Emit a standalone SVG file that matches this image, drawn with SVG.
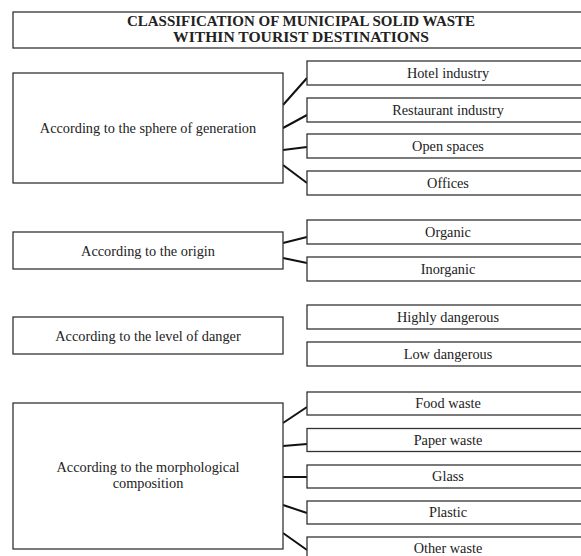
<svg xmlns="http://www.w3.org/2000/svg" width="581" height="556" viewBox="0 0 581 556">
<style>
.box{fill:#fff;stroke:#333;stroke-width:1.3}
.t{font-family:"Liberation Serif","Times New Roman",serif;font-size:14.3px;fill:#222;text-anchor:middle}
.title{font-family:"Liberation Serif","Times New Roman",serif;font-size:14px;font-weight:bold;fill:#222;text-anchor:middle}
.c{stroke:#111;stroke-width:2;fill:none}
</style>
<rect width="581" height="556" fill="#fff"/>
<g id="title">
<rect class="box" x="13" y="12" width="576" height="36"/>
<text class="title" x="301" y="26" textLength="348" lengthAdjust="spacingAndGlyphs">CLASSIFICATION OF MUNICIPAL SOLID WASTE</text>
<text class="title" x="301" y="41.5" textLength="256" lengthAdjust="spacingAndGlyphs">WITHIN TOURIST DESTINATIONS</text>
</g>
<g id="connectors">
<line class="c" x1="283" y1="105" x2="307" y2="78"/>
<line class="c" x1="283" y1="128" x2="307" y2="115"/>
<line class="c" x1="283" y1="150" x2="307" y2="147"/>
<line class="c" x1="283" y1="165" x2="307" y2="183"/>
<line class="c" x1="283" y1="243" x2="307" y2="237"/>
<line class="c" x1="283" y1="258" x2="307" y2="263"/>
<line class="c" x1="283" y1="423" x2="307" y2="407"/>
<line class="c" x1="283" y1="446" x2="307" y2="444"/>
<line class="c" x1="283" y1="477" x2="307" y2="477"/>
<line class="c" x1="283" y1="505" x2="307" y2="513"/>
<line class="c" x1="283" y1="533" x2="307" y2="550"/>
</g>
<g id="sphere">
<rect class="box" x="13" y="73" width="270" height="110"/>
<text class="t" x="148" y="133">According to the sphere of generation</text>
</g>
<g id="hotel"><rect class="box" x="307" y="61" width="282" height="24"/><text class="t" x="448" y="77.5">Hotel industry</text></g>
<g id="restaurant"><rect class="box" x="307" y="98" width="282" height="24"/><text class="t" x="448" y="114.5">Restaurant industry</text></g>
<g id="open"><rect class="box" x="307" y="134" width="282" height="24"/><text class="t" x="448" y="150.5">Open spaces</text></g>
<g id="offices"><rect class="box" x="307" y="171" width="282" height="24"/><text class="t" x="448" y="187.5">Offices</text></g>
<g id="origin">
<rect class="box" x="13" y="232" width="270" height="37"/>
<text class="t" x="148" y="255.5">According to the origin</text>
</g>
<g id="organic"><rect class="box" x="307" y="220" width="282" height="24"/><text class="t" x="448" y="236.5">Organic</text></g>
<g id="inorganic"><rect class="box" x="307" y="257" width="282" height="24"/><text class="t" x="448" y="273.5">Inorganic</text></g>
<g id="danger">
<rect class="box" x="13" y="317" width="270" height="37"/>
<text class="t" x="148" y="340.5">According to the level of danger</text>
</g>
<g id="highly"><rect class="box" x="307" y="305" width="282" height="24"/><text class="t" x="448" y="321.5">Highly dangerous</text></g>
<g id="low"><rect class="box" x="307" y="342" width="282" height="24"/><text class="t" x="448" y="358.5">Low dangerous</text></g>
<g id="morph">
<rect class="box" x="13" y="403" width="270" height="146"/>
<text class="t" x="148" y="472">According to the morphological</text>
<text class="t" x="148" y="487.5">composition</text>
</g>
<g id="food"><rect class="box" x="307" y="392" width="282" height="23"/><text class="t" x="448" y="408">Food waste</text></g>
<g id="paper"><rect class="box" x="307" y="428.5" width="282" height="23"/><text class="t" x="448" y="444.5">Paper waste</text></g>
<g id="glass"><rect class="box" x="307" y="465" width="282" height="23"/><text class="t" x="448" y="481">Glass</text></g>
<g id="plastic"><rect class="box" x="307" y="501" width="282" height="23"/><text class="t" x="448" y="517">Plastic</text></g>
<g id="other"><rect class="box" x="307" y="537" width="282" height="23"/><text class="t" x="448" y="553">Other waste</text></g>
</svg>
